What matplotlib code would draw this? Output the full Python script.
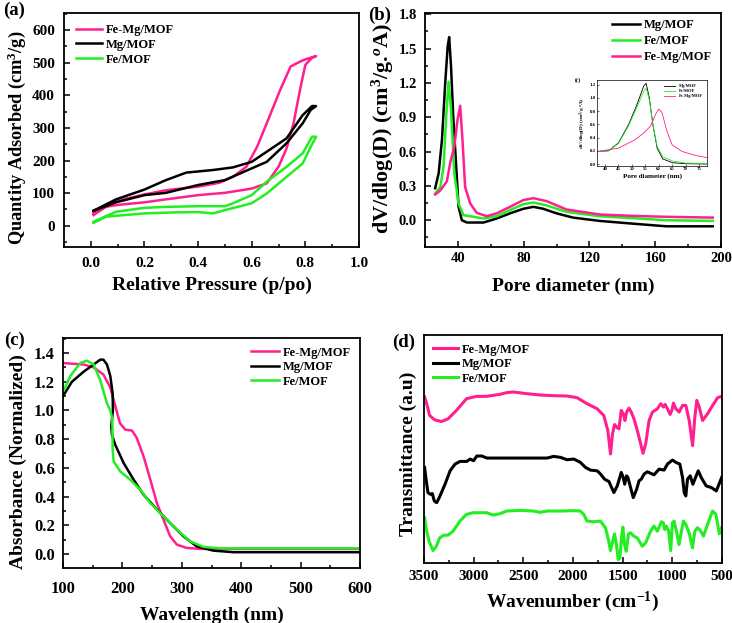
import numpy as np
import matplotlib
matplotlib.use('Agg')
import matplotlib.pyplot as plt
from matplotlib.ticker import MultipleLocator

plt.rcParams['font.family'] = ['Liberation Serif', 'DejaVu Serif']
plt.rcParams['font.weight'] = 'bold'
plt.rcParams['mathtext.fontset'] = 'custom'
plt.rcParams['mathtext.rm'] = 'Liberation Serif:bold'
plt.rcParams['mathtext.it'] = 'Liberation Serif:italic:bold'
plt.rcParams['mathtext.bf'] = 'Liberation Serif:bold'

pink = '#FF1F8E'
green = '#22EE22'
black = '#000000'

# (a) N2 isotherms: adsorption branch then desorption branch back (closed loop)
p_femg = [0.01, 0.056, 0.1, 0.2, 0.28, 0.4, 0.5, 0.6, 0.656, 0.70, 0.73, 0.756, 0.78, 0.80, 0.825,
          0.84, 0.80, 0.78, 0.745, 0.706, 0.656, 0.62, 0.58, 0.53, 0.48, 0.4, 0.28, 0.2, 0.094, 0.01]
q_femg = [33, 58, 64, 72, 81, 94, 101, 114, 130, 181, 237, 314, 416, 493, 515,
          520, 510, 503, 488, 416, 314, 242, 181, 150, 132, 120, 109, 96, 76, 38]
p_mg = [0.01, 0.094, 0.2, 0.28, 0.4, 0.5, 0.6, 0.656, 0.73, 0.79, 0.82, 0.84,
        0.825, 0.79, 0.73, 0.656, 0.6, 0.53, 0.456, 0.356, 0.28, 0.2, 0.094, 0.01]
q_mg = [46, 72, 94, 101, 125, 140, 176, 196, 253, 314, 355, 367,
        367, 339, 268, 227, 196, 179, 171, 163, 140, 111, 81, 46]
p_fe = [0.01, 0.056, 0.2, 0.31, 0.4, 0.456, 0.5, 0.6, 0.656, 0.73, 0.79, 0.82, 0.84,
        0.825, 0.79, 0.73, 0.656, 0.6, 0.53, 0.5, 0.4, 0.28, 0.2, 0.094, 0.01]
q_fe = [9, 28, 38, 41, 42, 38, 48, 69, 99, 150, 191, 242, 273,
        273, 222, 181, 135, 94, 69, 60, 60, 58, 55, 43, 12]

# (b) pore size distribution
d_mg = [26.2, 28.3, 30.3, 32.3, 33.8, 34.7, 35.8, 37.2, 38.4, 40.4, 42.4, 45.5, 55.6, 63.6, 71.7,
        79.8, 85.9, 91.9, 100, 110, 126.2, 146.4, 166.7, 195]
v_mg = [0.28, 0.41, 0.70, 1.20, 1.52, 1.60, 1.35, 0.90, 0.61, 0.12, 0.0, -0.02, -0.02, 0.015, 0.06,
        0.10, 0.117, 0.10, 0.06, 0.023, -0.006, -0.03, -0.053, -0.053]
d_fe = [26.2, 29.3, 31.3, 32.9, 34.3, 35.8, 37.8, 40.4, 43.4, 49.5, 55.6, 63.6, 71.7,
        79.8, 85.9, 93.9, 106, 126.2, 146.4, 166.7, 195]
v_fe = [0.234, 0.29, 0.47, 0.91, 1.21, 0.97, 0.41, 0.146, 0.044, 0.03, 0.015, 0.035, 0.088,
        0.14, 0.155, 0.13, 0.073, 0.035, 0.018, 0.0, -0.006]
d_femg = [26.2, 29.3, 33.3, 35.3, 37.8, 39.8, 41.4, 42.8, 44.4, 47.5, 51.5, 57.6, 63.6, 71.7,
          79.8, 85.9, 93.9, 106, 126.2, 146.4, 166.7, 195]
v_femg = [0.225, 0.26, 0.34, 0.50, 0.64, 0.88, 1.00, 0.70, 0.29, 0.146, 0.064, 0.035, 0.06, 0.117,
          0.176, 0.193, 0.167, 0.094, 0.05, 0.038, 0.03, 0.023]

# (b) inset
di_mg = [37.1, 41.3, 45.0, 48.8, 51.9, 54.4, 55.3, 56.5, 57.8, 59.4, 61.5, 65.1, 70, 78.2]
vi_mg = [0.19, 0.20, 0.32, 0.60, 0.90, 1.18, 1.22, 1.00, 0.60, 0.24, 0.077, 0.02, 0.005, 0.0]
di_fe = [37.1, 41.3, 45.0, 48.8, 51.9, 54.4, 55.3, 56.5, 57.8, 59.4, 61.5, 65.1, 70, 78.2]
vi_fe = [0.19, 0.20, 0.31, 0.58, 0.86, 1.10, 1.15, 0.97, 0.60, 0.27, 0.11, 0.045, 0.015, 0.01]
di_femg = [37.1, 45.0, 51.3, 54.4, 55.6, 56.9, 58.8, 60.0, 61.2, 63.1, 65.0, 68.7, 73.7, 78.0]
vi_femg = [0.19, 0.24, 0.37, 0.47, 0.52, 0.57, 0.75, 0.83, 0.78, 0.49, 0.29, 0.19, 0.13, 0.097]

# (c) UV-vis
w_femg = [100, 134.7, 151.5, 168, 179.6, 188, 196, 204.8, 216, 224, 235.6, 246.8, 258, 269, 280.4,
          291.6, 308, 330.8, 600]
a_femg = [1.33, 1.32, 1.30, 1.25, 1.16, 1.03, 0.91, 0.866, 0.86, 0.81, 0.68, 0.52, 0.355, 0.24, 0.123,
          0.065, 0.042, 0.035, 0.035]
w_mg = [100, 115, 134.7, 151.5, 162.7, 168, 174, 179.6, 183.5, 184, 181.2, 182.4, 188, 202, 218.8,
        235.6, 258, 280, 302.8, 325, 353, 387, 600]
a_mg = [1.10, 1.20, 1.27, 1.32, 1.354, 1.354, 1.32, 1.24, 1.12, 1.0, 0.89, 0.83, 0.76, 0.634, 0.518,
        0.413, 0.31, 0.216, 0.123, 0.053, 0.023, 0.012, 0.012]
w_fe = [100, 112.3, 129, 140, 151.5, 162.7, 174, 179.6, 183, 183.5, 185.2, 196, 213, 230, 246.8,
        269, 291.6, 314, 336, 364, 600]
a_fe = [1.13, 1.24, 1.33, 1.347, 1.32, 1.21, 1.05, 1.0, 0.94, 0.73, 0.645, 0.576, 0.518, 0.448, 0.355,
        0.262, 0.17, 0.088, 0.049, 0.039, 0.039]

# (d) FTIR, wavenumber (cm-1) and transmittance (a.u.)
k_femg = [3494, 3477, 3443, 3393, 3325, 3258, 3173, 3072, 2971, 2870, 2802, 2735, 2668, 2600, 2465,
          2330, 2195, 2060, 1959, 1858, 1757, 1690, 1649, 1622, 1602, 1581, 1554, 1537, 1514, 1494,
          1477, 1460, 1436, 1413, 1386, 1352, 1318, 1295, 1268, 1234, 1200, 1150, 1116, 1089, 1072,
          1049, 1022, 1005, 988, 965, 931, 897, 864, 830, 796, 773, 753, 729, 695, 645, 594, 544, 493]
t_femg = [50.0, 48.5, 44.5, 43.2, 42.7, 43.5, 46.0, 49.5, 50.2, 50.2, 50.5, 50.8, 51.3, 51.5, 51.0,
          50.6, 50.4, 50.3, 49.8, 48.0, 46.5, 44.5, 40.0, 33.0, 39.0, 41.8, 40.8, 40.5, 46.0, 45.0,
          43.0, 45.5, 46.7, 45.5, 43.5, 40.0, 36.0, 33.2, 36.0, 43.0, 45.5, 46.5, 48.0, 47.0, 47.8,
          46.5, 44.8, 46.0, 48.2, 46.5, 45.5, 47.5, 47.5, 43.0, 35.5, 44.0, 49.0, 47.0, 43.0, 45.0,
          47.5, 49.8, 50.3]
k_mg = [3494, 3477, 3460, 3436, 3416, 3396, 3372, 3346, 3288, 3237, 3187, 3136, 3069, 3035, 3001,
        2968, 2917, 2867, 2800, 2665, 2463, 2261, 2194, 2126, 2059, 1992, 1925, 1874, 1823, 1756,
        1722, 1682, 1638, 1588, 1554, 1514, 1494, 1480, 1460, 1447, 1420, 1393, 1359, 1335, 1312,
        1285, 1251, 1184, 1133, 1083, 1049, 998, 964, 924, 897, 880, 864, 847, 820, 793, 766,
        739, 709, 659, 608, 581, 557, 530, 503]
t_mg = [29.0, 25.0, 21.5, 21.0, 21.2, 19.0, 18.5, 20.0, 24.0, 28.0, 30.0, 30.8, 30.8, 31.5, 31.0,
        32.4, 32.4, 31.8, 31.8, 31.8, 31.8, 31.8, 32.3, 32.0, 31.3, 31.5, 30.5, 29.0, 28.2, 28.0,
        27.0, 25.5, 24.8, 21.5, 23.5, 27.5, 26.0, 24.0, 26.5, 26.0, 23.0, 20.0, 22.5, 25.0, 25.5,
        27.0, 27.7, 26.8, 28.5, 28.2, 30.0, 31.2, 30.5, 30.0, 26.0, 21.5, 20.5, 25.5, 26.5, 24.0,
        26.0, 28.0, 26.0, 23.5, 23.0, 22.5, 22.0, 24.0, 26.0]
k_fe = [3493, 3476, 3449, 3409, 3375, 3342, 3301, 3257, 3207, 3139, 3072, 3005, 2870, 2802, 2735,
        2667, 2533, 2398, 2330, 2263, 2128, 1993, 1926, 1892, 1859, 1791, 1724, 1673, 1640, 1623,
        1599, 1582, 1562, 1545, 1528, 1511, 1498, 1481, 1464, 1441, 1420, 1387, 1353, 1302, 1269,
        1218, 1185, 1151, 1110, 1090, 1077, 1060, 1036, 1016, 999, 982, 955, 932, 908, 888,
        864, 831, 797, 773, 746, 713, 686, 645, 595, 561, 527, 504]
t_fe = [14.0, 10.5, 7.0, 4.2, 5.5, 8.0, 8.8, 8.8, 10.0, 13.0, 15.0, 15.5, 15.5, 14.8, 15.2,
        16.0, 16.2, 16.0, 15.6, 16.0, 16.0, 16.1, 16.0, 15.0, 13.0, 12.8, 13.0, 11.0, 7.0, 4.2,
        7.0, 9.2, 6.0, 1.5, 2.0, 8.0, 11.2, 6.0, 4.0, 9.2, 9.5, 8.5, 8.0, 5.5, 6.5,
        10.0, 11.5, 10.0, 12.8, 12.5, 10.5, 11.5, 10.0, 4.2, 12.5, 13.0, 9.5, 6.0, 10.0, 13.0,
        12.0, 9.5, 5.0, 10.0, 11.0, 10.0, 8.5, 12.0, 16.0, 15.0, 9.2, 11.0]

fig = plt.figure(figsize=(7.32, 6.23), dpi=100)
ax = [fig.add_axes([0.0874, 0.6035, 0.403, 0.3756]),
      fig.add_axes([0.5806, 0.6035, 0.4044, 0.3756]),
      fig.add_axes([0.0861, 0.0883, 0.4057, 0.3692]),
      fig.add_axes([0.5792, 0.0963, 0.4071, 0.3660])]

tsize = [11, 10.5, 12, 11]
xpad = [7.0, 3.5, 9.5, 5.0]
ypad = [6.5, 6.0, 5.8, 3.5]
for a, ts, xp, yp in zip(ax, tsize, xpad, ypad):
    a.tick_params(which='both', direction='in', top=False, right=False, labelsize=ts, width=1.1)
    a.tick_params(which='major', length=4)
    a.tick_params(which='minor', length=2.5)
    a.tick_params(axis='x', pad=xp)
    a.tick_params(axis='y', pad=yp)
    for s in a.spines.values():
        s.set_linewidth(1.3)

lw = 1.8
leg = dict(frameon=False, fontsize=9, handletextpad=0.3, borderaxespad=0.3)
# (a)
ax[0].plot(p_femg, q_femg, color=pink, lw=lw, label='Fe-Mg/MOF')
ax[0].plot(p_mg, q_mg, color=black, lw=lw, label='Mg/MOF')
ax[0].plot(p_fe, q_fe, color=green, lw=lw, label='Fe/MOF')
ax[0].set_xlim(-0.1, 1.0)
ax[0].set_ylim(-65, 652)
ax[0].xaxis.set_minor_locator(MultipleLocator(0.1))
ax[0].yaxis.set_minor_locator(MultipleLocator(50))
ax[0].set_xticks([0.0, 0.2, 0.4, 0.6, 0.8, 1.0])
ax[0].set_xticklabels(['0.0', '0.2', '0.4', '0.6', '0.8', '1.0'])
ax[0].set_yticks([0, 100, 200, 300, 400, 500, 600])
ax[0].set_xlabel('Relative Pressure (p/po)', fontsize=14, fontweight='bold', labelpad=5)
ax[0].set_ylabel('Quantity Adsorbed (cm$^{3}$/g)', fontsize=13.2, fontweight='bold', labelpad=3)
ax[0].yaxis.label.set_y(0.468)
ax[0].legend(loc='upper left', handlelength=2.1, labelspacing=0.22,
             bbox_to_anchor=(0.01, 0.99), **leg)

# (b)
ax[1].plot(d_mg, v_mg, color=black, lw=lw, label='Mg/MOF')
ax[1].plot(d_fe, v_fe, color=green, lw=lw, label='Fe/MOF')
ax[1].plot(d_femg, v_femg, color=pink, lw=lw, label='Fe-Mg/MOF')
ax[1].set_xlim(20, 200)
ax[1].set_ylim(-0.234, 1.81)
ax[1].set_xticks([40, 80, 120, 160, 200])
ax[1].xaxis.set_minor_locator(MultipleLocator(20))
ax[1].set_yticks([0.0, 0.3, 0.6, 0.9, 1.2, 1.5, 1.8])
ax[1].yaxis.set_minor_locator(MultipleLocator(0.15))
ax[1].set_xlabel('Pore diameter (nm)', fontsize=14, fontweight='bold', labelpad=9)
ax[1].set_ylabel('dV/dlog(D) (cm$^{3}$/g.$^{o}$A)', fontsize=15.9, fontweight='bold', labelpad=2)
ax[1].yaxis.label.set_y(0.506)
ax[1].legend(loc='upper right', handlelength=2.3, labelspacing=0.3,
             bbox_to_anchor=(1.0, 1.01), **leg)

ins = fig.add_axes([0.8156, 0.7335, 0.1503, 0.138])
ins.plot(di_mg, vi_mg, color=black, lw=0.6, label='Mg/MOF')
ins.plot(di_fe, vi_fe, color=green, lw=0.6, label='Fe/MOF')
ins.plot(di_femg, vi_femg, color=pink, lw=0.6, label='Fe-Mg/MOF')
ins.set_xlim(37, 78)
ins.set_ylim(-0.03, 1.27)
ins.set_xticks([40, 45, 50, 55, 60, 65, 70, 75])
ins.set_yticks([0.0, 0.2, 0.4, 0.6, 0.8, 1.0, 1.2])
ins.tick_params(direction='in', labelsize=3.5, length=1.2, width=0.4, pad=1)
for s in ins.spines.values():
    s.set_linewidth(0.5)
ins.set_xlabel('Pore diameter (nm)', fontsize=5, fontweight='bold', labelpad=1)
ins.set_ylabel('dV/dlog(D) (cm$^{3}$/g.$^{o}$A)', fontsize=3.8, fontweight='bold', labelpad=1)
ins.legend(loc='upper right', frameon=False, fontsize=3.2, handlelength=2.5, labelspacing=0.2)
ins.text(-0.2, 1.0, '(c)', transform=ins.transAxes, fontsize=4, fontweight='bold', va='center')

# (c)
ax[2].plot(w_femg, a_femg, color=pink, lw=lw, label='Fe-Mg/MOF')
ax[2].plot(w_mg, a_mg, color=black, lw=lw, label='Mg/MOF')
ax[2].plot(w_fe, a_fe, color=green, lw=lw, label='Fe/MOF')
ax[2].set_xlim(100, 600)
ax[2].set_ylim(-0.098, 1.505)
ax[2].xaxis.set_major_locator(MultipleLocator(100))
ax[2].xaxis.set_minor_locator(MultipleLocator(50))
ax[2].set_yticks([0.0, 0.2, 0.4, 0.6, 0.8, 1.0, 1.2, 1.4])
ax[2].yaxis.set_minor_locator(MultipleLocator(0.1))
ax[2].set_xlabel('Wavelength (nm)', fontsize=14, fontweight='bold', labelpad=7)
ax[2].set_ylabel('Absorbance (Normalized)', fontsize=14, fontweight='bold', labelpad=5)
ax[2].yaxis.label.set_y(0.463)
ax[2].legend(loc='upper right', handlelength=2.3, labelspacing=0.2,
             bbox_to_anchor=(1.0, 1.0), **leg)

# (d)
ax[3].plot(k_femg, t_femg, color=pink, lw=2.2, label='Fe-Mg/MOF')
ax[3].plot(k_mg, t_mg, color=black, lw=2.2, label='Mg/MOF')
ax[3].plot(k_fe, t_fe, color=green, lw=2.2, label='Fe/MOF')
ax[3].set_xlim(3500, 500)
ax[3].set_ylim(0.5, 68.5)
ax[3].xaxis.set_major_locator(MultipleLocator(500))
ax[3].xaxis.set_minor_locator(MultipleLocator(250))
ax[3].set_yticks([])
ax[3].set_xlabel('Wavenumber (cm$^{-1}$)', fontsize=14, fontweight='bold', labelpad=5)
ax[3].set_ylabel('Transmittance (a.u)', fontsize=14, fontweight='bold', labelpad=5)
ax[3].yaxis.label.set_y(0.478)
ax[3].legend(loc='upper left', handlelength=2.0, labelspacing=0.2,
             bbox_to_anchor=(0.0, 1.0), **leg)

for a in ax:
    for lbl in a.get_xticklabels() + a.get_yticklabels():
        lbl.set_fontweight('bold')

fig.text(0.004, 0.984, '(a)', fontsize=13.5, fontweight='bold', va='center')
fig.text(0.503, 0.976, '(b)', fontsize=13.5, fontweight='bold', va='center')
fig.text(0.005, 0.454, '(c)', fontsize=13.5, fontweight='bold', va='center')
fig.text(0.536, 0.451, '(d)', fontsize=13.5, fontweight='bold', va='center')

fig.savefig('out.png', dpi=100)
